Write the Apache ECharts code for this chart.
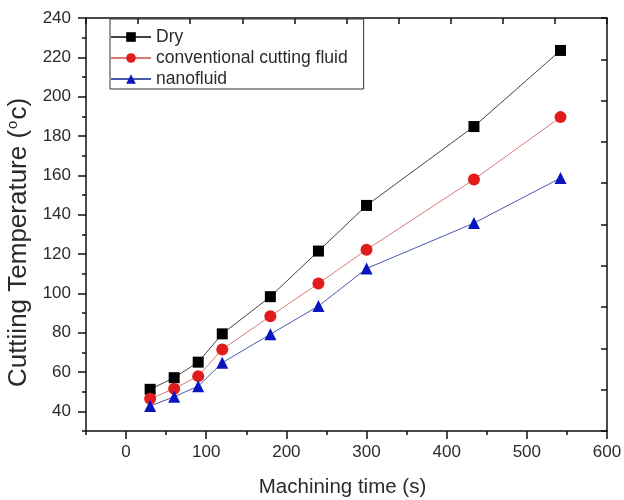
<!DOCTYPE html>
<html>
<head>
<meta charset="utf-8">
<script src="https://cdn.jsdelivr.net/npm/echarts@6/dist/echarts.min.js"></script>
<style>
  html, body { margin: 0; padding: 0; background: #fff; }
  #chart { width: 624px; height: 500px; }
</style>
</head>
<body>
<div id="chart"></div>
<script>
// machining time (s), same for all three conditions
const times = [30, 60, 90, 120, 180, 240, 300, 434, 542];
const dryTemp = [51.2, 57.1, 65.0, 79.4, 98.3, 121.5, 144.7, 184.8, 223.5];
const conventionalTemp = [46.4, 51.5, 57.9, 71.5, 88.4, 105.0, 122.2, 157.9, 189.6];
const nanoTemp = [42.7, 47.4, 52.8, 64.7, 79.2, 93.5, 112.6, 135.7, 158.6];

const xMajor = [0, 100, 200, 300, 400, 500, 600];
const xMinor = [-50, 50, 150, 250, 350, 450, 550];
const yMajor = [40, 60, 80, 100, 120, 140, 160, 180, 200, 220, 240];
const yMinor = [30, 50, 70, 90, 110, 130, 150, 170, 190, 210, 230];

const FONT = "Liberation Sans, Arial, sans-serif";
const TXT = "#2b2b2b";

function pairs(ys) {
    return times.map((t, i) => [t, ys[i]]);
}

const chart = echarts.init(document.getElementById("chart"), null, { renderer: "canvas" });

const tickStyle = { color: "#111", width: 1.5 };
const axisLine = { show: true, onZero: false, lineStyle: { color: "#111", width: 1.5 } };
const noLine = { show: false, onZero: false };

chart.setOption({
    animation: false,
    backgroundColor: "#fff",
    textStyle: { fontFamily: FONT },
    grid: { left: 86, right: 17, top: 18, bottom: 69, containLabel: false, outerBoundsMode: "none" },
    legend: {
        orient: "vertical",
        left: 110,
        top: 19,
        padding: [9, 16, 1, 0],
        itemGap: 3,
        itemWidth: 40,
        itemHeight: 12,
        borderColor: "#333",
        borderWidth: 1,
        textStyle: { fontSize: 17.5, color: TXT, fontFamily: FONT },
        data: ["Dry", "conventional cutting fluid", "nanofluid"]
    },
    xAxis: [
        {
            type: "value", position: "bottom", min: -50, max: 600,
            axisLine: axisLine,
            axisTick: { show: true, inside: false, length: 8, customValues: xMajor, lineStyle: tickStyle },
            axisLabel: { show: true, margin: 13, fontSize: 17, color: TXT, customValues: xMajor },
            splitLine: { show: false },
            name: "Machining time (s)", nameLocation: "middle", nameGap: 46,
            nameTextStyle: { fontSize: 20.5, color: TXT, fontFamily: FONT, padding: [0, 8, 0, 0] }
        },
        {
            type: "value", position: "bottom", min: -50, max: 600,
            axisLine: noLine,
            axisTick: { show: true, inside: false, length: 4, customValues: xMinor, lineStyle: tickStyle },
            axisLabel: { show: false },
            splitLine: { show: false }
        },
        {
            type: "value", position: "top", min: 0, max: 10, interval: 1,
            axisLine: axisLine,
            axisTick: { show: true, inside: true, length: 6, lineStyle: tickStyle },
            axisLabel: { show: false },
            splitLine: { show: false }
        }
    ],
    yAxis: [
        {
            type: "value", position: "left", min: 30, max: 240,
            axisLine: axisLine,
            axisTick: { show: true, inside: false, length: 8, customValues: yMajor, lineStyle: tickStyle },
            axisLabel: { show: true, margin: 15, fontSize: 17, color: TXT, customValues: yMajor },
            splitLine: { show: false },
            name: "{t|Cuttiing Temperature (}{sup|o}{t|c)}",
            nameLocation: "middle", nameGap: 47, nameRotate: 90,
            nameTextStyle: {
                color: TXT, fontFamily: FONT, fontSize: 26,
                padding: [0, 36, 0, 0],
                rich: {
                    t: { fontSize: 26, color: TXT, fontFamily: FONT },
                    sup: { fontSize: 15, color: TXT, fontFamily: FONT, verticalAlign: "top", padding: [0, 1, 12, 1] }
                }
            }
        },
        {
            type: "value", position: "left", min: 30, max: 240,
            axisLine: noLine,
            axisTick: { show: true, inside: false, length: 4, customValues: yMinor, lineStyle: tickStyle },
            axisLabel: { show: false },
            splitLine: { show: false }
        },
        {
            type: "value", position: "right", min: 0, max: 10, interval: 1,
            axisLine: axisLine,
            axisTick: { show: true, inside: true, length: 6, lineStyle: tickStyle },
            axisLabel: { show: false },
            splitLine: { show: false }
        }
    ],
    series: [
        {
            name: "Dry", type: "line", xAxisIndex: 0, yAxisIndex: 0,
            data: pairs(dryTemp),
            symbol: "rect", symbolSize: 11,
            itemStyle: { color: "#000" },
            lineStyle: { color: "#444", width: 1 }
        },
        {
            name: "conventional cutting fluid", type: "line", xAxisIndex: 0, yAxisIndex: 0,
            data: pairs(conventionalTemp),
            symbol: "circle", symbolSize: 12,
            itemStyle: { color: "#e01c1c" },
            lineStyle: { color: "#d87a7a", width: 1 }
        },
        {
            name: "nanofluid", type: "line", xAxisIndex: 0, yAxisIndex: 0,
            data: pairs(nanoTemp),
            symbol: "triangle", symbolSize: 12,
            itemStyle: { color: "#0a14c0" },
            lineStyle: { color: "#4a58b0", width: 1 }
        }
    ]
});
</script>
</body>
</html>
